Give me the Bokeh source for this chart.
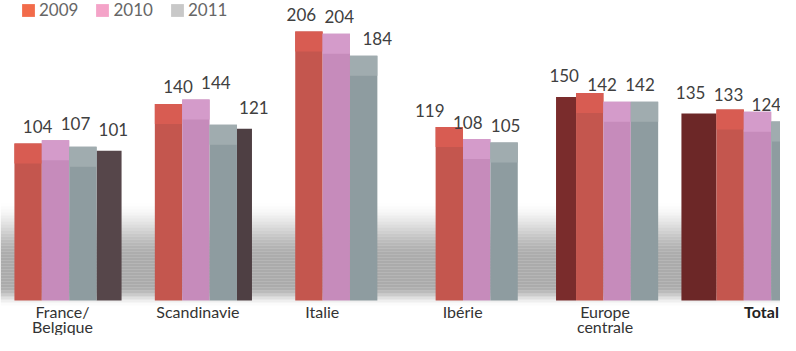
import math
from bokeh.plotting import figure
from bokeh.models import Range1d, Legend, LegendItem, ColumnDataSource
from bokeh.core.properties import value
from bokeh.embed import file_html
from bokeh.resources import INLINE

# ---- data ----
regions = ["France/\nBelgique", "Scandinavie", "Italie", "Ibérie", "Europe\ncentrale", "Total"]
years = ["2009", "2010", "2011"]
v2009 = [104, 140, 206, 119, 150, 135]
v2010 = [107, 144, 204, 108, 142, 133]
v2011 = [101, 121, 184, 105, 142, 124]

# ---- layout / style ----
W, H = 780, 335
PX_X = 140.4                 # pixels per category step
FIRST_PX = 55                # pixel centre of the first group
BASE = -39                   # visual floor of the bars
TOP_PX, BASE_PX = 31, 300    # pixel rows of the value 206 and of the floor
PX_Y = (BASE_PX - TOP_PX) / (206 - BASE)
x_start = -FIRST_PX / PX_X
x_end = x_start + W / PX_X
y_end = 206 + TOP_PX / PX_Y
y_start = y_end - H / PX_Y
BAR_W = 0.195
CAP = 20 / PX_Y              # depth of the lighter top face

front_cols = ["#c4564e", "#c68bbb", "#8e9ca0"]
cap_cols = ["#d85c52", "#d49bca", "#a0acaf"]
legend_cols = ["#f26b4a", "#f4a3c8", "#c8c8c8"]
side_px = [25, 15, 0, 0, -20, -35]          # dark side face (right +, left -)
side_cols = ["#56464a", "#4e3f43", "#000000", "#000000", "#7a2c2c", "#6c2727"]
label_shift = [20, 20, 3, -9, -15, -29]     # px shift of value labels
cat_shift = [7, 2, -14, -14, -12, 4]        # px shift of category labels
FONT = "Lato"

p = figure(width=W, height=H, output_backend="svg", toolbar_location=None,
           x_range=Range1d(x_start, x_end), y_range=Range1d(y_start, y_end),
           min_border=0, background_fill_color="white", border_fill_color="white")
p.xaxis.visible = False
p.yaxis.visible = False
p.grid.visible = False
p.outline_line_color = None


def smooth(a, b, t):
    s = min(max((t - a) / (b - a), 0.0), 1.0)
    return s * s * (3 - 2 * s)


# soft floor shadow behind the bars
for py in range(200, 310, 3):
    a = 0.55 * smooth(200, 258, py + 1.5) * (1 - smooth(286, 306, py + 1.5))
    if a <= 0.005:
        continue
    p.quad(left=x_start, right=x_end, top=y_end - py / PX_Y, bottom=y_end - (py + 3) / PX_Y,
           fill_color="#666666", fill_alpha=a, line_color=None)

series = [v2009, v2010, v2011]
idx = list(range(len(regions)))

# side faces
for i in idx:
    if side_px[i] == 0:
        continue
    if side_px[i] > 0:
        left = i + BAR_W + BAR_W / 2
        right = left + side_px[i] / PX_X
        top = v2011[i] - 4 / PX_Y
    else:
        right = i - BAR_W - BAR_W / 2
        left = right + side_px[i] / PX_X
        top = v2009[i] - 4 / PX_Y
    p.quad(left=[left], right=[right], top=[top], bottom=[BASE],
           fill_color=side_cols[i], line_color=None)

# front faces + lighter top caps
for j, vals in enumerate(series):
    xs = [i + (j - 1) * BAR_W for i in idx]
    src = ColumnDataSource(dict(x=xs, top=vals, cap=[v - CAP for v in vals]))
    p.vbar(x="x", top="top", bottom=BASE, width=BAR_W, source=src,
           fill_color=front_cols[j], line_color=None)
    p.vbar(x="x", top="top", bottom="cap", width=BAR_W, source=src,
           fill_color=cap_cols[j], line_color=None)

# value labels
for j, vals in enumerate(series):
    xs = [i + (j - 1) * 0.27 for i in idx]
    src = ColumnDataSource(dict(x=xs, y=vals, t=[str(v) for v in vals], dx=label_shift))
    p.text(x="x", y="y", text="t", x_offset="dx", y_offset=-17, source=src,
           text_align="center", text_baseline="middle", text_font=value(FONT),
           text_font_size="17px", text_color="#404040")

# category labels
reg_src = ColumnDataSource(dict(x=idx[:-1], y=[BASE] * (len(idx) - 1), t=regions[:-1], dx=cat_shift[:-1]))
p.text(x="x", y="y", text="t", x_offset="dx", y_offset=1, source=reg_src,
       text_align="center", text_baseline="top", text_font=value(FONT),
       text_font_size="16px", text_color="#333333", text_line_height=0.82)
tot_src = ColumnDataSource(dict(x=idx[-1:], y=[BASE], t=regions[-1:], dx=cat_shift[-1:]))
p.text(x="x", y="y", text="t", x_offset="dx", y_offset=1, source=tot_src,
       text_align="center", text_baseline="top", text_font=value(FONT),
       text_font_size="16px", text_font_style="bold", text_color="#222222")

# legend (swatch renderers sit outside the visible x range)
items = []
for j, y in enumerate(years):
    r = p.vbar(x=[x_start - 5], top=[0], width=0.1, fill_color=legend_cols[j], line_color=None)
    items.append(LegendItem(label=y, renderers=[r]))
legend = Legend(items=items, orientation="horizontal", location=(20, H - 20),
                padding=0, margin=0, spacing=16, label_standoff=3,
                glyph_width=16, glyph_height=16, label_height=20,
                label_text_font=FONT, label_text_font_size="17px", label_text_color="#666666",
                border_line_alpha=0, background_fill_alpha=0)
p.add_layout(legend)

open("out.html", "w").write(file_html(p, INLINE))
